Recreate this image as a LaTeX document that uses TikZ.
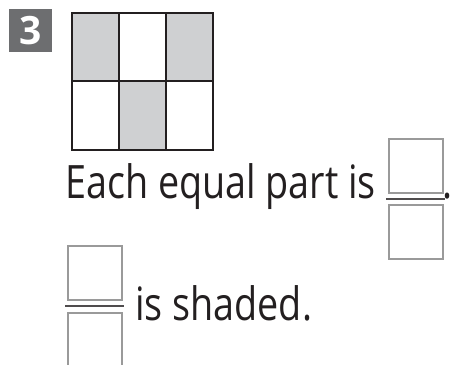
\documentclass[tikz,border=0pt]{standalone}
\usepackage{fontspec}
\setmainfont{Open Sans}
\newfontfamily\promptfont{Open Sans}[FakeStretch=0.82]
\usepackage{tikz}
\usetikzlibrary{positioning}
\definecolor{badgegray}{HTML}{6D6E70}
\definecolor{shadegray}{HTML}{CFD0D2}
\definecolor{boxgray}{HTML}{9A9A9A}
\definecolor{inkblack}{HTML}{231F20}

\begin{document}
\begin{tikzpicture}[
  x=1pt, y=-1pt,
  badge/.style={fill=badgegray, text=white, minimum size=43pt, inner sep=0pt,
                font=\fontsize{39}{40}\selectfont\bfseries},
  ansbox/.style={draw=boxgray, line width=2pt, minimum size=54pt, inner sep=0pt},
  barline/.style={draw=inkblack!80, line width=2pt},
  prompt/.style={font=\promptfont\fontsize{46}{55}\selectfont, text=inkblack, inner sep=0pt},
]
  \useasboundingbox (0,0) rectangle (452,364);

  % --- problem number -------------------------------------------
  \node[badge] (num) at (30.5,30.5) {3};

  % --- 3 x 2 grid, three parts shaded -----------------------------
  \fill[shadegray] (72,13) rectangle (119,81);
  \fill[shadegray] (166,13) rectangle (213,81);
  \fill[shadegray] (119,81) rectangle (166,150);
  \draw[inkblack, line width=1.2pt] (119,13) -- (119,150) (166,13) -- (166,150)
    (72,81) -- (213,81);
  \draw[inkblack, line width=2.2pt] (72,13) rectangle (213,150);

  % --- first sentence ---------------------------------------------
  \node[prompt, anchor=base west] (each) at (65,198) {Each equal part is};
  \node[ansbox] (numA) at (415.5,166) {};
  \node[ansbox] (denA) at (415.5,231.5) {};
  \draw[barline] (386,198.5) -- (445,198.5);
  \node[prompt, anchor=base west] (dotA) at (442.5,198) {.};

  % --- second sentence --------------------------------------------
  \node[ansbox] (numB) at (94.5,272.5) {};
  \node[ansbox] (denB) at (94.5,339.5) {};
  \draw[barline] (65,306) -- (124,306);
  \node[prompt, anchor=base west] (shaded) at (135,320) {is shaded.};
\end{tikzpicture}
\end{document}
